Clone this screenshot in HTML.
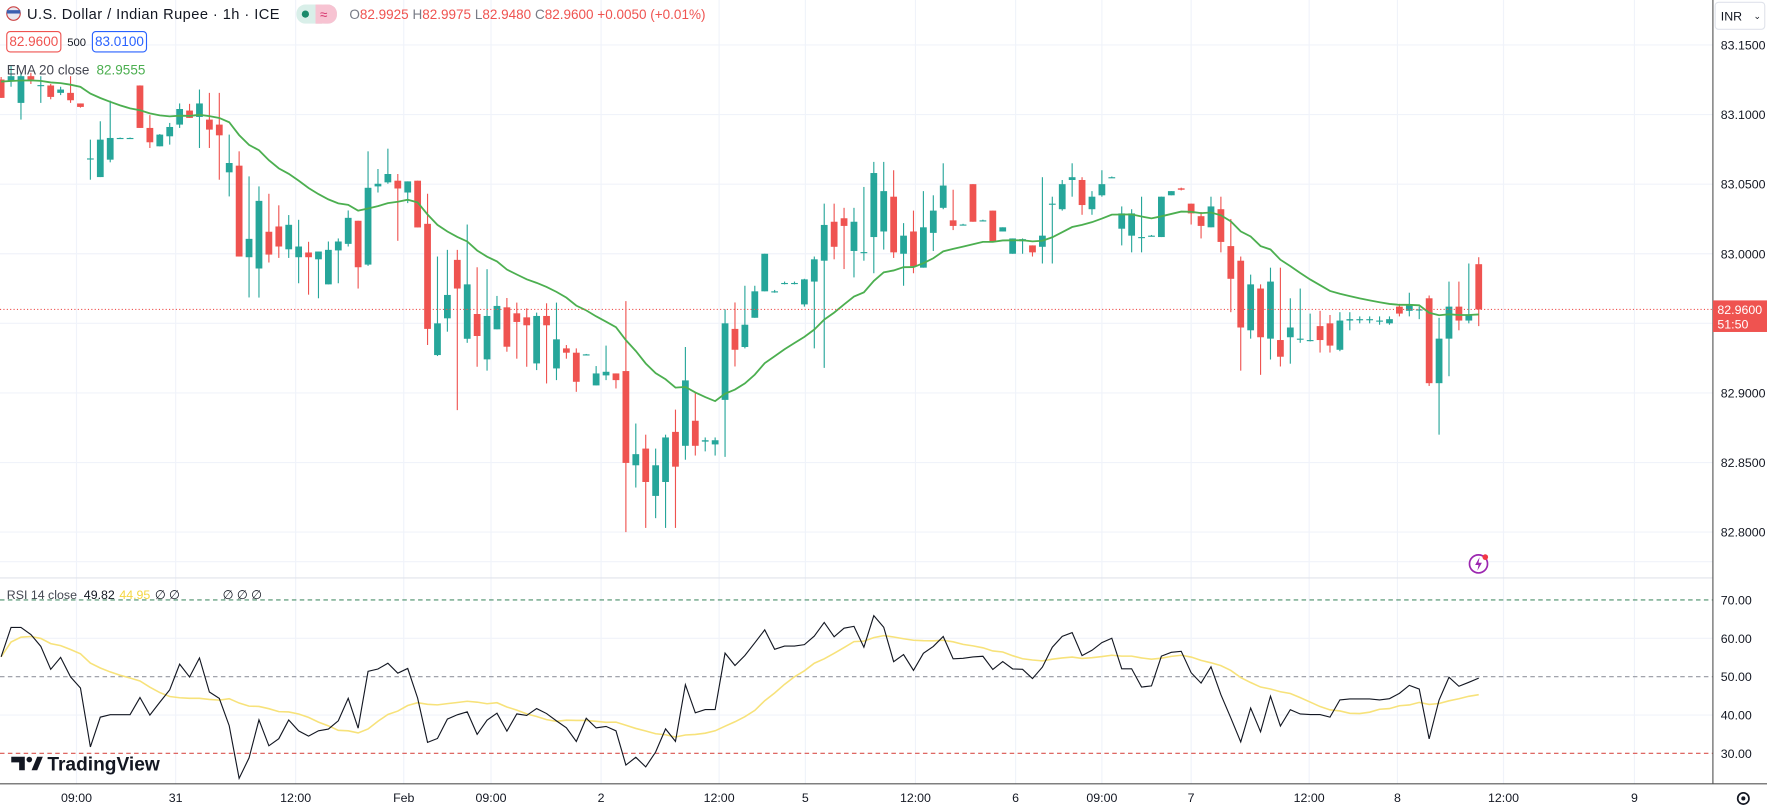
<!DOCTYPE html>
<html><head><meta charset="utf-8"><title>USD/INR 1h</title>
<style>
html,body{margin:0;padding:0;background:#fff;overflow:hidden;}
svg{display:block;font-family:"Liberation Sans",sans-serif;}
</style></head>
<body>
<svg id="chart" width="1767" height="812" viewBox="0 0 1568 720" preserveAspectRatio="none" xmlns="http://www.w3.org/2000/svg">
  <rect x="0" y="0" width="1568" height="720" fill="#ffffff"/>
  <g id="grid"></g>
  <g id="marks"></g>
  <g id="rsi"></g>
  <line x1="0" y1="512.5" x2="1520" y2="512.5" stroke="#e0e3eb" stroke-width="1"/>
  <line x1="0" y1="695" x2="1568" y2="695" stroke="#555" stroke-width="1"/>
  <line x1="1520" y1="0" x2="1520" y2="695" stroke="#555" stroke-width="1"/>
  <g id="yaxis"></g>
  <g id="xaxis"></g>

  <g>
    <circle cx="12" cy="12" r="6" fill="#e8e8f0" stroke="#c44" stroke-width="1"/>
    <rect x="6" y="9" width="12" height="3" fill="#3a5fb0"/>
    <text x="24" y="17" font-size="13" fill="#131722" textLength="224">U.S. Dollar / Indian Rupee · 1h · ICE</text>
    <rect x="263" y="4" width="36" height="17" rx="8" fill="#d9efe9"/>
    <rect x="280" y="4" width="19" height="17" rx="8" fill="#f7c3d2"/>
    <rect x="280" y="4" width="6" height="17" fill="#f7c3d2"/>
    <circle cx="271" cy="12.5" r="3.2" fill="#1b8a6b"/>
    <text x="284" y="17" font-size="12" fill="#d6336c">≈</text>
    <text x="310" y="17" font-size="12" fill="#ef5350"><tspan fill="#787b86">O</tspan>82.9925 <tspan fill="#787b86">H</tspan>82.9975 <tspan fill="#787b86">L</tspan>82.9480 <tspan fill="#787b86">C</tspan>82.9600 +0.0050 (+0.01%)</text>
    <rect x="6" y="28" width="48" height="18" rx="3" fill="#fff" stroke="#ef5350"/>
    <text x="30" y="41" font-size="12" fill="#ef5350" text-anchor="middle">82.9600</text>
    <text x="68" y="41" font-size="10" fill="#131722" text-anchor="middle">500</text>
    <rect x="82" y="28" width="48" height="18" rx="3" fill="#fff" stroke="#2962ff"/>
    <text x="106" y="41" font-size="12" fill="#2962ff" text-anchor="middle">83.0100</text>
    <text x="6" y="66" font-size="12" fill="#434651">EMA 20 close <tspan fill="#4caf50" dx="3">82.9555</tspan></text>
    <text x="6" y="531" font-size="11" fill="#434651">RSI 14 close <tspan fill="#131722" dx="3">49.82</tspan><tspan fill="#f5d742" dx="4">44.95</tspan><tspan fill="#131722" dx="4">∅ ∅</tspan><tspan fill="#131722" dx="38">∅ ∅ ∅</tspan></text>
  </g>

  <g>
    <rect x="1522" y="2" width="44" height="24" rx="3" fill="#fff" stroke="#e0e3eb"/>
    <text x="1527" y="18" font-size="11" fill="#131722">INR</text>
    <text x="1556" y="17" font-size="8" fill="#131722">⌄</text>
  </g>

  <g>
    <path d="M10 671 h12 v12 h-5 v-7 h-7 z" fill="#131722"/>
    <circle cx="26" cy="673.5" r="2.5" fill="#131722"/>
    <path d="M28 683 l5 -12 h5 l-5 12 z" fill="#131722"/>
    <text x="42" y="683" font-size="17" font-weight="bold" fill="#131722">TradingView</text>
  </g>

  <g>
    <circle cx="1312" cy="500" r="8" fill="#fff" stroke="#9c27b0" stroke-width="1.5"/>
    <path d="M1313 494 l-4 7 h3 l-1 5 l4 -7 h-3 z" fill="#9c27b0"/>
    <circle cx="1318" cy="494" r="2.5" fill="#f23645"/>
  </g>
  <g>
    <circle cx="1547" cy="708" r="5" fill="none" stroke="#131722" stroke-width="1.5"/>
    <circle cx="1547" cy="708" r="1.8" fill="#131722"/>
  </g>
</svg>
<script>
const opens=[83.1252,83.124,83.1084,83.1276,83.1209,83.1209,83.1156,83.1156,83.108,83.068,83.0551,83.0676,83.0832,83.0832,83.1209,83.0904,83.0772,83.0844,83.0928,83.1029,83.0983,83.0964,83.0928,83.0585,83.0633,82.9975,82.9894,83.0158,83.0196,83.0032,82.9975,83.0009,82.996,82.978,83.0024,83.0071,83.0237,82.9922,83.0484,83.0513,83.0525,83.044,83.0525,83.0215,82.9272,82.9536,82.9956,82.9389,82.9567,82.9241,82.9457,82.9615,82.9572,82.9543,82.9212,82.9553,82.9176,82.932,82.9289,82.9277,82.9054,82.9126,82.914,82.9157,
82.848,82.860,82.826,82.836,82.872,82.862,82.880,82.865,82.863,82.895,82.946,82.933,82.954,82.973,82.973,82.979,82.979,82.9636,82.980,82.995,83.023,83.0255,83.002,83.001,83.012,83.016,83.041,83.0,83.016,82.990,83.015,83.033,83.024,83.021,83.05,83.024,83.031,83.016,83.0,83.009,83.006,83.005,83.036,83.032,83.053,83.053,83.032,83.042,83.055,83.018,83.013,83.012,83.013,83.012,83.042,83.047,83.036,83.027,83.019,83.032,83.0055,82.995,82.945,82.975,82.939,82.938,82.940,82.939,82.938,82.948,82.95,82.931,82.952,82.953,82.953,82.952,82.950,82.962,82.959,82.960,82.968,82.907,82.939,82.962,82.952,82.9925];
const highs=[83.127,83.135,83.13,83.13,83.1276,83.122,83.12,83.1276,83.108,83.082,83.0952,83.110,83.0835,83.0835,83.121,83.0996,83.086,83.094,83.108,83.1077,83.118,83.1156,83.1156,83.0856,83.0736,83.0556,83.0484,83.0431,83.0348,83.0278,83.0244,83.0086,83.0016,83.0088,83.011,83.0311,83.0237,83.0736,83.0609,83.0755,83.0573,83.052,83.0525,83.0431,82.998,83.0028,83.0028,83.021,82.9903,82.9889,82.9697,82.9682,82.9649,82.9608,82.9577,82.9644,82.9649,82.9344,82.932,82.928,82.9193,82.934,82.914,82.966,
82.878,82.870,82.860,82.870,82.888,82.933,82.900,82.868,82.868,82.960,82.965,82.977,82.977,83.000,82.974,82.980,82.980,82.982,82.998,83.036,83.036,83.033,83.033,83.048,83.066,83.066,83.060,83.022,83.031,83.045,83.042,83.065,83.046,83.0215,83.05,83.0245,83.031,83.019,83.011,83.011,83.006,83.055,83.041,83.053,83.065,83.055,83.045,83.06,83.0555,83.034,83.032,83.041,83.0135,83.041,83.045,83.0475,83.036,83.03,83.041,83.041,83.025,82.998,82.985,82.978,82.990,82.990,82.968,82.975,82.957,82.959,82.956,82.958,82.958,82.955,82.955,82.955,82.955,82.964,82.972,82.962,82.970,82.954,82.980,82.980,82.993,82.9975];
const lows=[83.112,83.120,83.0964,83.122,83.1084,83.111,83.114,83.1084,83.105,83.0532,83.0551,83.0657,83.083,83.083,83.0904,83.076,83.0772,83.0784,83.0904,83.0976,83.076,83.076,83.0532,83.0412,82.998,82.9686,82.9685,82.9937,82.997,82.997,82.9788,82.9706,82.968,82.978,82.9788,83.0052,82.975,82.9913,83.044,83.0503,83.0093,83.0364,83.0189,82.9344,82.9265,82.944,82.8876,82.936,82.9188,82.916,82.9457,82.9296,82.9246,82.9188,82.9164,82.9068,82.9092,82.9246,82.9008,82.9275,82.9054,82.9092,82.9032,82.80,
82.832,82.803,82.810,82.803,82.803,82.852,82.855,82.858,82.855,82.854,82.919,82.932,82.954,82.973,82.972,82.978,82.978,82.962,82.932,82.918,82.996,82.989,82.983,82.995,82.986,83.003,82.997,82.977,82.986,82.99,83.002,83.032,83.017,83.0205,83.023,83.0235,83.009,83.016,83.0,83.0,82.998,82.993,82.993,83.031,83.041,83.028,83.028,83.041,83.0545,83.006,83.001,83.001,83.0125,83.012,83.042,83.0455,83.021,83.011,83.019,83.001,82.958,82.916,82.939,82.913,82.924,82.919,82.921,82.936,82.937,82.929,82.929,82.930,82.945,82.950,82.950,82.949,82.949,82.955,82.955,82.953,82.905,82.870,82.912,82.945,82.950,82.948];
const closes=[83.112,83.1276,83.1276,83.1252,83.1212,83.1127,83.118,83.1103,83.1055,83.0685,83.082,83.0832,83.0832,83.0832,83.0904,83.0801,83.0856,83.0911,83.104,83.0976,83.108,83.0892,83.0851,83.0652,82.998,83.0107,83.038,82.9994,83.0052,83.0208,83.0052,82.9975,83.0016,83.0028,83.0088,83.0258,82.9903,83.0474,83.0503,83.0573,83.0469,83.052,83.0189,82.946,82.95,82.9704,82.975,82.978,82.9409,82.9553,82.9625,82.9332,82.951,82.9486,82.9553,82.9486,82.9385,82.9289,82.908,82.9277,82.914,82.9152,82.9092,82.8497,
82.856,82.836,82.848,82.868,82.847,82.909,82.862,82.866,82.866,82.950,82.931,82.949,82.973,83.000,82.973,82.979,82.979,82.9816,82.996,83.0207,83.005,83.02,83.023,83.0012,83.058,83.045,83.001,83.013,82.991,83.019,83.031,83.049,83.020,83.021,83.023,83.024,83.009,83.019,83.011,83.0105,83.001,83.013,83.036,83.05,83.055,83.035,83.041,83.05,83.055,83.029,83.029,83.012,83.013,83.041,83.045,83.046,83.029,83.02,83.034,83.0085,82.982,82.947,82.978,82.940,82.980,82.926,82.947,82.939,82.938,82.938,82.934,82.952,82.953,82.953,82.953,82.952,82.953,82.957,82.963,82.960,82.907,82.939,82.962,82.952,82.956,82.960];
const priceTicks=[83.15,83.10,83.05,83.00,82.95,82.90,82.85,82.80];
const rsiTicks=[70,60,50,40,30];
const timeLabels=["09:00","31","12:00","Feb","09:00","2","12:00","5","12:00","6","09:00","7","12:00","8","12:00","9"];
const timeLabelIdx=[7.6,17.6,29.7,40.6,49.4,60.5,72.4,81.1,92.2,102.3,111,120,131.9,140.8,151.5,164.7];
const emaLength=20, emaSeed=83.125;
const rsiLength=14, rsiMaLength=14, rsiSeedGain=0.0032, rsiSeedLoss=0.0026;
const lastPrice=82.96, lastPriceLabel="82.9600", countdown="51:50";

const NS="http://www.w3.org/2000/svg";
const X0=1, STEP=8.8, CHART_R=1520;
const xOf=i=>X0+i*STEP;
const yPrice=p=>225-(p-83.0)*1234;
const yRsi=v=>600-(v-50)*3.4;
function mk(tag,attrs,parent){const e=document.createElementNS(NS,tag);for(const k in attrs)e.setAttribute(k,attrs[k]);parent.appendChild(e);return e;}
const grid=document.getElementById('grid'),marks=document.getElementById('marks'),rsiG=document.getElementById('rsi'),yax=document.getElementById('yaxis'),xax=document.getElementById('xaxis');

priceTicks.forEach(p=>{
  const y=yPrice(p);
  const l=mk('line',{x1:0,y1:y,x2:CHART_R,y2:y,stroke:'#f0f3fa','stroke-width':1},grid);
  
  
  const t=mk('text',{x:1527,y:y+4,'font-size':11,fill:'#131722'},yax);
  t.textContent=p.toFixed(4);
  
  
});
[60,40,80].forEach(v=>{mk('line',{x1:0,y1:yRsi(v),x2:CHART_R,y2:yRsi(v),stroke:'#f0f3fa','stroke-width':1},grid);});
timeLabelIdx.forEach((ix,k)=>{
  const x=xOf(ix);
  mk('line',{x1:x,y1:0,x2:x,y2:695,stroke:'#f0f3fa','stroke-width':1},grid);
  const t=mk('text',{x:x,y:711,'font-size':11,fill:'#131722','text-anchor':'middle'},xax);
  t.textContent=timeLabels[k];
  
  
});
rsiTicks.forEach(v=>{
  const t=mk('text',{x:1527,y:yRsi(v)+4,'font-size':11,fill:'#131722'},yax);
  t.textContent=v.toFixed(2);
  
  
});
const band=[[70,'#4a8f6a'],[50,'#9598a1'],[30,'#d9534f']];
band.forEach(([v,c])=>{
  const l=mk('line',{x1:0,y1:yRsi(v),x2:CHART_R,y2:yRsi(v),stroke:c,'stroke-width':1,'stroke-dasharray':'4 3'},rsiG);
  
  
});

for(let i=0;i<closes.length;i++){
  const up=closes[i]>=opens[i];
  const col=up?'#26a69a':'#ef5350';
  const x=xOf(i);
  const g=mk('g',{},marks);
  
  
  mk('line',{x1:x,y1:yPrice(highs[i]),x2:x,y2:yPrice(lows[i]),stroke:col,'stroke-width':1},g);
  const top=yPrice(Math.max(opens[i],closes[i])),bot=yPrice(Math.min(opens[i],closes[i]));
  mk('rect',{x:x-3,y:top,width:6,height:Math.max(1,bot-top),fill:col},g);
}
let ema=emaSeed;const a=2/(emaLength+1);const emaPts=[];
closes.forEach((c,i)=>{ema=a*c+(1-a)*ema;emaPts.push(xOf(i).toFixed(1)+','+yPrice(ema).toFixed(1));});
const emaLine=mk('polyline',{points:emaPts.join(' '),fill:'none',stroke:'#4caf50','stroke-width':1.6},marks);



const ly=yPrice(lastPrice);
const pl=mk('line',{x1:0,y1:ly,x2:CHART_R,y2:ly,stroke:'#ef5350','stroke-width':1,'stroke-dasharray':'1 2'},marks);


const lb=mk('rect',{x:1520,y:ly-8,width:48,height:28,fill:'#ef5350'},yax);


const lt=mk('text',{x:1524,y:ly+4,'font-size':11,fill:'#fff'},yax);lt.textContent=lastPriceLabel;
const ct=mk('text',{x:1524,y:ly+17,'font-size':11,fill:'#fff'},yax);ct.textContent=countdown;

let ag=rsiSeedGain,al=rsiSeedLoss;const rsiVals=[];
closes.forEach((c,i)=>{
  if(i>0){const d=c-closes[i-1];ag=(ag*(rsiLength-1)+Math.max(d,0))/rsiLength;al=(al*(rsiLength-1)+Math.max(-d,0))/rsiLength;}
  rsiVals.push(al===0?100:100-100/(1+ag/al));
});
const maVals=rsiVals.map((v,i)=>{const s=rsiVals.slice(Math.max(0,i-rsiMaLength+1),i+1);return s.reduce((p,q)=>p+q,0)/s.length;});
const ma=mk('polyline',{points:maVals.map((v,i)=>xOf(i).toFixed(1)+','+yRsi(v).toFixed(1)).join(' '),fill:'none',stroke:'#f7e27a','stroke-width':1.4},rsiG);


const rl=mk('polyline',{points:rsiVals.map((v,i)=>xOf(i).toFixed(1)+','+yRsi(v).toFixed(1)).join(' '),fill:'none',stroke:'#131722','stroke-width':1},rsiG);


</script>
</body></html>
